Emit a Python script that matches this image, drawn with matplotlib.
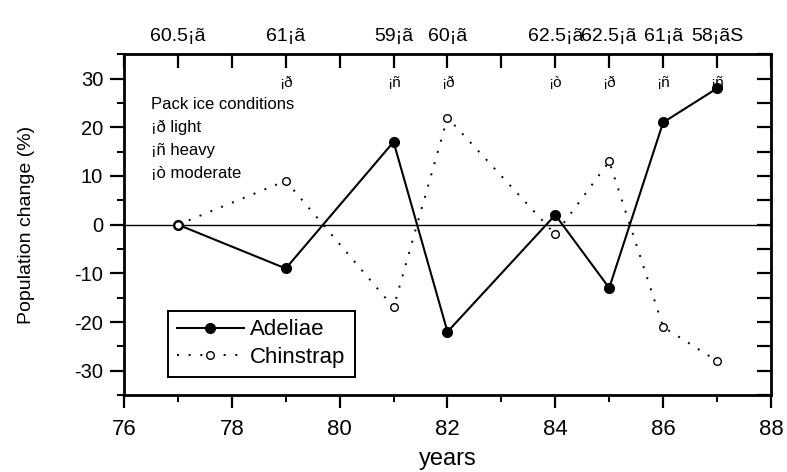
import numpy as np
import matplotlib
matplotlib.use('Agg')
import matplotlib.pyplot as plt
from matplotlib.ticker import MultipleLocator

plt.rcParams['font.family'] = ['Liberation Sans', 'DejaVu Sans']
plt.rcParams['axes.unicode_minus'] = False

years = [77, 79, 81, 82, 84, 85, 86, 87]
adeliae = [0, -9, 17, -22, 2, -13, 21, 28]
chinstrap = [0, 9, -17, 22, -2, 13, -21, -28]
ice_lat = ['60.5¡ã', '61¡ã', '59¡ã', '60¡ã', '62.5¡ã', '62.5¡ã', '61¡ã', '58¡ãS']
ice_sym = ['', '¡ð', '¡ñ', '¡ð', '¡ò', '¡ð', '¡ñ', '¡ñ']
key_lines = ['Pack ice conditions', '¡ð light', '¡ñ heavy', '¡ò moderate']

fig = plt.figure(figsize=(7.87, 4.72), dpi=100)
ax = fig.add_axes([0.1576, 0.163, 0.822, 0.722])

ax.axhline(0, color='black', lw=1.0, zorder=1)
ax.plot(years, adeliae, '-o', color='black', lw=1.5, ms=7,
        mfc='black', label='Adeliae', zorder=3)
ax.plot(years, chinstrap, 'o', color='black', ls=(0, (1, 5)), lw=1.4, ms=5.5,
        mfc='white', mew=1.0, label='Chinstrap', zorder=3)

ax.set_xlim(76, 88)
ax.set_ylim(-35, 35)
ax.xaxis.set_major_locator(MultipleLocator(2))
ax.xaxis.set_minor_locator(MultipleLocator(1))
ax.yaxis.set_major_locator(MultipleLocator(10))
ax.yaxis.set_minor_locator(MultipleLocator(5))
ax.tick_params(axis='x', which='major', direction='out', length=9, width=1.6,
               labelsize=16, pad=8)
ax.tick_params(axis='x', which='minor', direction='out', length=5, width=1.4)
ax.tick_params(axis='y', which='major', direction='out', length=10, width=1.6,
               labelsize=14.5, pad=5)
ax.tick_params(axis='y', which='minor', direction='out', length=5, width=1.4)
for s in ax.spines.values():
    s.set_linewidth(2)

ax.set_xlabel('years', fontsize=17, labelpad=6)
ax.set_ylabel('Population change (%)', fontsize=14, labelpad=28)

# right axis: ticks only, pointing inward
right = ax.secondary_yaxis('right')
right.yaxis.set_major_locator(MultipleLocator(10))
right.yaxis.set_minor_locator(MultipleLocator(5))
right.tick_params(which='both', direction='in', length=10, width=1.6, labelright=False)

# top axis with latitude of pack ice
top = ax.secondary_xaxis('top')
top.set_xticks(years)
top.set_xticklabels(ice_lat, fontsize=14)
top.xaxis.set_minor_locator(MultipleLocator(1))
top.tick_params(which='both', direction='in', length=10, width=1.6, pad=7)

for x, s in zip(years, ice_sym):
    if s:
        ax.text(x, 29, s, ha='center', va='center', fontsize=11)

for i, t in enumerate(key_lines):
    ax.text(76.5, 24.6 - i * 4.7, t, ha='left', va='center', fontsize=12)

leg = ax.legend(loc='lower left', bbox_to_anchor=(0.068, 0.053), fontsize=16,
                frameon=True, fancybox=False, edgecolor='black', framealpha=1,
                handlelength=3.0, handletextpad=0.3, borderpad=0.4,
                labelspacing=0.3, borderaxespad=0)
leg.get_frame().set_linewidth(1.4)

fig.savefig('out.png', dpi=100)
